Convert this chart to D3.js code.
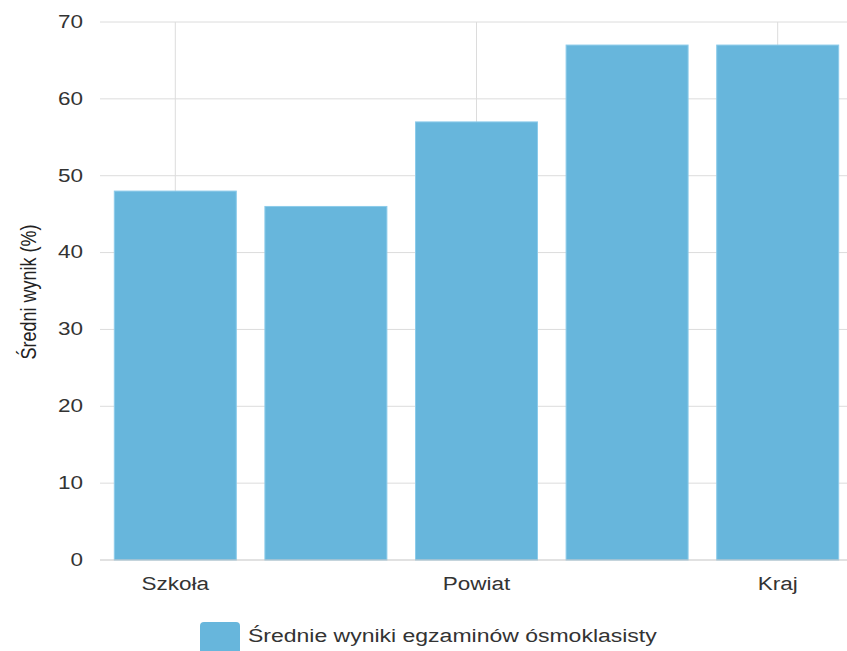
<!DOCTYPE html>
<html><head><meta charset="utf-8">
<script src="https://cdn.jsdelivr.net/npm/d3@7"></script>
<style>body{margin:0;background:#fff}svg{display:block}</style>
</head><body>
<svg id="c" width="847" height="651"></svg>
<script>
const categories = ["Szkoła","Gmina","Powiat","Województwo","Kraj"];
const values = [48, 46, 57, 67, 67];
const shownLabels = ["Szkoła","Powiat","Kraj"];
const yTicks = [0,10,20,30,40,50,60,70];
const seriesName = "Średnie wyniki egzaminów ósmoklasisty";
const yTitle = "Średni wynik (%)";

const svg = d3.select("#c");
const mLeft = 100, mRight = 853, mTop = 22, mBottom = 560;
const sx = 1.25; // horizontal text stretch seen in the reference
const font = "'Liberation Sans', Arial, sans-serif";
const x = d3.scaleBand().domain(categories).range([mLeft, mRight]).paddingInner(0.19).paddingOuter(0.095);
const y = d3.scaleLinear().domain([0, 70]).range([mBottom, mTop]);
const color = "#67b6dc";

// horizontal grid
svg.append("g").selectAll("line").data(yTicks.filter(d => d > 0)).join("line")
  .attr("x1", mLeft).attr("x2", 847).attr("y1", d => y(d)).attr("y2", d => y(d))
  .attr("stroke", "#dcdcdc").attr("stroke-width", 1);
// vertical grid at labelled categories
svg.append("g").selectAll("line").data(shownLabels).join("line")
  .attr("x1", d => x(d) + x.bandwidth()/2).attr("x2", d => x(d) + x.bandwidth()/2)
  .attr("y1", mTop).attr("y2", mBottom)
  .attr("stroke", "#dcdcdc").attr("stroke-width", 1);

// bars
svg.append("g").selectAll("rect").data(categories).join("rect")
  .attr("x", d => x(d)).attr("width", x.bandwidth())
  .attr("y", (d,i) => y(values[i])).attr("height", (d,i) => y(0) - y(values[i]))
  .attr("fill", color).attr("stroke", "#8ccbea").attr("stroke-width", 1);

// baseline
svg.append("line").attr("x1", mLeft).attr("x2", 847).attr("y1", y(0)).attr("y2", y(0))
  .attr("stroke", "#c4c4c4").attr("stroke-width", 1);

// y axis labels
const yAxis = d3.axisLeft(y).tickValues(yTicks).tickSize(0).tickPadding(0);
const gy = svg.append("g").attr("transform", `translate(83,0)`).call(yAxis);
gy.select(".domain").remove();
gy.selectAll("text").attr("font-family", font).attr("font-size", 18).attr("fill", "#333")
  .attr("dy", "0.3em").attr("transform", `scale(${sx},1)`);

// x axis labels
const xAxis = d3.axisBottom(x).tickSize(0).tickPadding(0)
  .tickFormat(d => shownLabels.includes(d) ? d : "");
const gx = svg.append("g").attr("transform", `translate(0,590)`).call(xAxis);
gx.select(".domain").remove();
gx.selectAll("text").attr("font-family", font).attr("font-size", 18).attr("fill", "#333")
  .attr("dy", 0).attr("transform", `scale(${sx},1)`);

// y title
svg.append("text").attr("transform", `translate(36,292) scale(${sx},1) rotate(-90)`)
  .attr("text-anchor", "middle").attr("font-family", font)
  .attr("font-size", 18).attr("fill", "#222")
  .text(yTitle);

// legend
svg.append("rect").attr("x", 200).attr("y", 622).attr("width", 40).attr("height", 32)
  .attr("rx", 4).attr("fill", color);
svg.append("text").attr("transform", `translate(248,642) scale(${sx},1)`)
  .attr("font-family", font).attr("font-size", 18).attr("fill", "#333")
  .attr("textLength", 327).attr("lengthAdjust", "spacingAndGlyphs").text(seriesName);
</script>
</body></html>
